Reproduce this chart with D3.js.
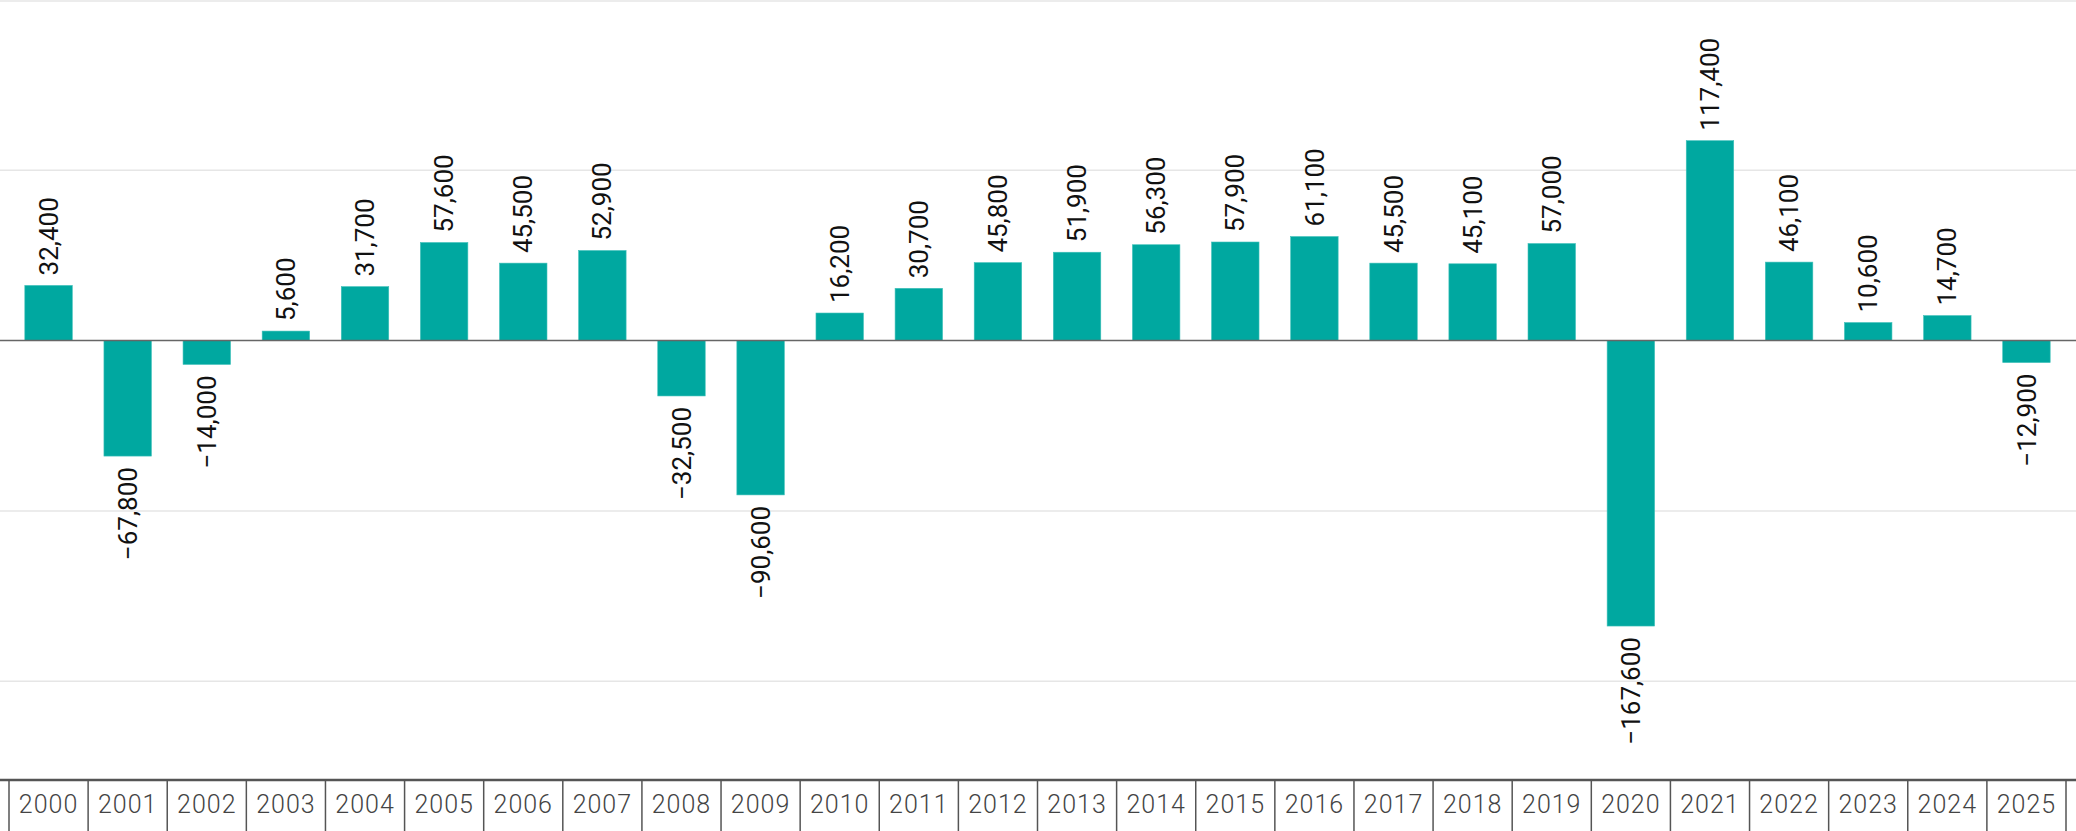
<!DOCTYPE html>
<html>
<head>
<meta charset="utf-8">
<script src="https://cdn.jsdelivr.net/npm/d3@7"></script>
<style>
  body { margin: 0; background: #fff; }
  #chart { width: 2076px; height: 831px; }
</style>
</head>
<body>
<div id="chart"></div>
<script>
  const w = 2076;
  const h = 831;

  const years = ["2000","2001","2002","2003","2004","2005","2006","2007","2008","2009",
    "2010","2011","2012","2013","2014","2015","2016","2017","2018","2019",
    "2020","2021","2022","2023","2024","2025"];
  const values = [32400, -67800, -14000, 5600, 31700, 57600, 45500, 52900, -32500, -90600,
    16200, 30700, 45800, 51900, 56300, 57900, 61100, 45500, 45100, 57000,
    -167600, 117400, 46100, 10600, 14700, -12900];
  const gridValues = [200000, 100000, -100000, -200000];

  const axisY = 780;

  var svg = d3.select("#chart")
    .append("svg")
    .attr("width", w)
    .attr("height", h);

  const x = d3.scaleBand()
    .domain(years)
    .range([9, 2066])
    .paddingInner(0.4)
    .paddingOuter(0.2);

  const y = d3.scaleLinear()
    .domain([-258000, 200000])
    .range([axisY, 0]);

  const fmt = d3.format(",");

  // gridlines
  svg.selectAll(".grid")
    .data(gridValues)
    .enter().append("line")
    .attr("x1", 0)
    .attr("x2", w)
    .attr("y1", d => Math.max(1, y(d)))
    .attr("y2", d => Math.max(1, y(d)))
    .style("stroke", "#e6e6e6")
    .style("stroke-width", "1.5px");

  // bars
  const data = years.map((yr, i) => ({ year: yr, value: values[i] }));

  svg.selectAll(".bar")
    .data(data)
    .enter().append("rect")
    .attr("x", d => x(d.year))
    .attr("width", x.bandwidth())
    .attr("y", d => y(Math.max(0, d.value)))
    .attr("height", d => Math.abs(y(d.value) - y(0)))
    .style("fill", "#00a8a0")
    .style("stroke", "#3fc0b9")
    .style("stroke-width", "0.6px");

  // zero line
  svg.append("line")
    .attr("x1", 0)
    .attr("x2", w)
    .attr("y1", y(0))
    .attr("y2", y(0))
    .style("stroke", "#666")
    .style("stroke-width", "1.5px");

  // value labels, rotated
  svg.selectAll(".lbl")
    .data(data)
    .enter().append("text")
    .attr("transform", d => {
      const cx = x(d.year) + x.bandwidth() / 2;
      const cy = d.value >= 0 ? y(d.value) - 10 : y(d.value) + 11;
      return `translate(${cx},${cy}) rotate(-90)`;
    })
    .attr("text-anchor", d => d.value >= 0 ? "start" : "end")
    .attr("dy", "0.35em")
    .style("font-family", "Roboto, sans-serif")
    .style("font-size", "26px")
    .style("fill", "#111")
    .text(d => fmt(d.value));

  // bottom axis line
  svg.append("line")
    .attr("x1", 0)
    .attr("x2", w)
    .attr("y1", axisY)
    .attr("y2", axisY)
    .style("stroke", "#555")
    .style("stroke-width", "2.5px");

  // separators between categories
  const step = x.step();
  const bounds = years.map(yr => x(yr) - step * x.paddingInner() / 2);
  bounds.push(x(years[years.length - 1]) + x.bandwidth() + step * x.paddingInner() / 2);

  svg.selectAll(".sep")
    .data(bounds)
    .enter().append("line")
    .attr("x1", d => d)
    .attr("x2", d => d)
    .attr("y1", axisY)
    .attr("y2", h)
    .style("stroke", "#555")
    .style("stroke-width", "1.5px");

  // year labels
  const xAxis = svg.append("g")
    .attr("transform", `translate(0,${axisY})`)
    .call(d3.axisBottom(x).tickSize(0).tickPadding(0));
  xAxis.select(".domain").remove();
  xAxis.selectAll("text")
    .attr("y", 24)
    .attr("dy", "0.35em")
    .style("font-family", "Roboto, sans-serif")
    .style("font-weight", "300")
    .style("font-size", "25px")
    .style("letter-spacing", "1px")
    .style("fill", "#444");
</script>
</body>
</html>
